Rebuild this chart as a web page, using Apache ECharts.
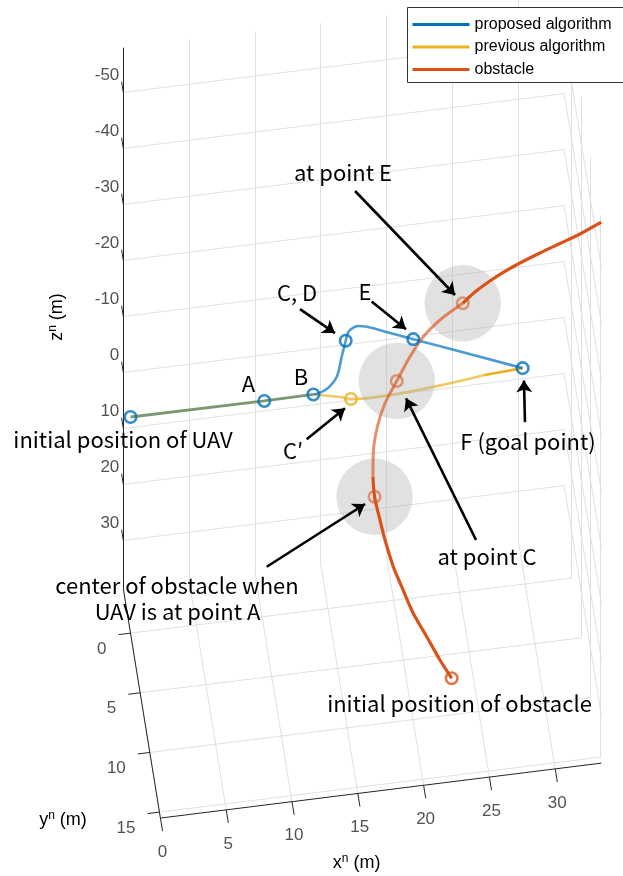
<!DOCTYPE html>
<html>
<head>
<meta charset="utf-8">
<script src="https://cdn.jsdelivr.net/npm/echarts@6/dist/echarts.min.js"></script>
<style>
  html, body { margin: 0; padding: 0; background: #fff; }
  #chart { width: 623px; height: 876px; }
</style>
</head>
<body>
<div id="chart"></div>
<script>
// ---- axis extents and ticks (m) ----
const xLim = [0, 33.5];
const yLim = [-3.73, 15.5];
const zLim = [-58, 38.6];
const xTicks = [0, 5, 10, 15, 20, 25, 30];
const yTicks = [0, 5, 10, 15];
const zTicks = [-50, -40, -30, -20, -10, 0, 10, 20, 30];

// ---- UAV trajectories [x, y, z] ----
// shared part: initial position -> A -> B
const uavCommon = [
  [0, 0, 0],
  [10.16, 0.05, 0],   // A
  [13.89, 0.02, 0]    // B
];
// proposed algorithm: B -> C, D -> E -> F
const proposedPath = [
  [13.89, 0.02, 0],
  [14.41, -0.06, 0],
  [15.06, -0.36, 0],
  [15.85, -1.2, 0],
  [16.46, -2.8, 0],
  [16.88, -3.6, -1.0],   // C, D
  [17.03, -3.68, -2.0],
  [17.22, -3.7, -2.6],
  [17.83, -3.7, -3.15],
  [18.49, -3.7, -2.83],
  [20.25, -3.6, -1.4],
  [22.0, -3.5, 0],       // E
  [29.8, 0, 0]           // F (goal)
];
// previous algorithm: B -> C' -> F
const previousPath = [
  [13.89, 0.02, 0],
  [15.85, 0.5, 0],
  [16.64, 0.78, 0],      // C'
  [26.8, 0.18, 0],
  [29.8, 0, 0]           // F (goal)
];
// obstacle centre trajectory
const obstaclePath = [
  [23.38, 7.0, 38.59],
  [22.59, 6.3, 36.59],
  [21.72, 5.4, 34.09],
  [20.81, 4.6, 31.35],
  [20.05, 3.8, 28.08],
  [19.5, 3.2, 25.63],
  [18.96, 2.6, 21.98],
  [18.65, 2.1, 19.38],
  [18.31, 1.6, 16.19],   // UAV at A
  [18.25, 1.2, 13.45],
  [18.33, 0.8, 10.15],
  [18.7, 0.4, 6.36],
  [19.32, 0.15, 2.89],
  [20.23, 0, -0.5],      // UAV at C
  [21.22, 0.1, -4.77],
  [22.2, 0.3, -8.48],
  [23.43, 0.6, -11.74],
  [25.1, 1.0, -15.08],   // UAV at E
  [25.94, 1.6, -18.13],
  [26.95, 2.5, -21.72],
  [27.94, 3.5, -25.26],
  [28.86, 5.0, -29.7],
  [30.09, 7.0, -35.39],
  [31.24, 9.5, -42.07],
  [32.35, 12.3, -49.41],
  [33.5, 15.5, -58]
];
const obstacleRadius = 2.88;          // safety sphere radius (m)
const obsAtA = 8, obsAtC = 13, obsAtE = 17;  // samples of obstaclePath
const propC = 5, propE = 11;          // samples of proposedPath
const prevC = 2;                      // sample of previousPath

// ---- colours ----
const BLUE = '#0072BD', YELLOW = '#EDB120', ORANGE = '#D95319';
const GRID = '#e0e0e0', AXIS = '#262626';

// ---- orthographic view: screen position of origin and unit steps ----
const cam = { o: [130.5, 417], ex: [13.16, -1.64], ey: [1.93, 11.93], ez: [0, 5.6] };
function proj(p) {
  return [
    cam.o[0] + p[0] * cam.ex[0] + p[1] * cam.ey[0] + p[2] * cam.ez[0],
    cam.o[1] + p[0] * cam.ex[1] + p[1] * cam.ey[1] + p[2] * cam.ez[1]
  ];
}
const unitPx = Math.hypot(cam.ex[0], cam.ex[1]);

// ---- box planes with grid lines ----
const [x0, x1] = xLim, [y0, y1] = yLim, [z0, z1] = zLim;
const gridSegs = [];
xTicks.forEach(x => gridSegs.push([[x, y0, z0], [x, y0, z1]]));       // back wall
zTicks.forEach(z => gridSegs.push([[x0, y0, z], [x1, y0, z]]));
xTicks.forEach(x => gridSegs.push([[x, y0, z1], [x, y1, z1]]));       // floor
yTicks.forEach(y => gridSegs.push([[x0, y, z1], [x1, y, z1]]));
yTicks.forEach(y => gridSegs.push([[x1, y, z0], [x1, y, z1]]));       // side wall
zTicks.forEach(z => gridSegs.push([[x1, y0, z], [x1, y1, z]]));

// axis lines and tick marks
const axisSegs = [
  [[x0, y0, z0], [x0, y0, z1]],
  [[x0, y0, z1], [x0, y1, z1]],
  [[x0, y1, z1], [x1, y1, z1]]
];
xTicks.forEach(x => axisSegs.push([[x, y1, z1], [x, y1 + 1.1, z1]]));
yTicks.forEach(y => axisSegs.push([[x0, y, z1], [x0 - 0.9, y, z1]]));
zTicks.forEach(z => axisSegs.push([[x0, y0, z], [x0, y0 - 0.9, z]]));

const segData = segs => segs.map(s => ({ coords: s.map(proj) }));
const pts = arr => arr.map(proj);

const tickFont = { fontFamily: 'Liberation Sans', fontSize: 17, color: AXIS };
function tickLabels(items, offset, align) {
  return {
    type: 'scatter', silent: true, z: 8, symbolSize: 0,
    data: items.map(it => ({ value: proj(it.p), name: it.t })),
    label: Object.assign({ show: true, formatter: '{b}', position: 'inside', offset: offset,
      align: align, verticalAlign: 'middle' }, tickFont)
  };
}

// ---- annotations ----
const annFont = '"Noto Sans CJK KR"';
const annSize = 22;
const anno = [
  { t: 'at point E', x: 343, y: 173 },
  { t: 'C, D', x: 297, y: 293 },
  { t: 'E', x: 365, y: 292 },
  { t: 'A', x: 248.5, y: 384 },
  { t: 'B', x: 301, y: 377 },
  { t: 'C\u2032', x: 293, y: 451 },
  { t: 'at point C', x: 487, y: 557 },
  { t: 'F (goal point)', x: 528, y: 442 },
  { t: 'initial position of UAV', x: 123, y: 439.5 },
  { t: 'center of obstacle when', x: 177, y: 586 },
  { t: 'UAV is at point A', x: 177.5, y: 611.5 },
  { t: 'initial position of obstacle', x: 459.5, y: 704 }
];

// arrows: pointed mark, tail / head offsets (px)
const arrowDefs = [
  { at: proj(obstaclePath[obsAtE]), tail: [-107.7, -112.3], head: [-7.7, -8.3] },
  { at: proj(proposedPath[propC]), tail: [-45.7, -31.7], head: [-10.7, -7.7] },
  { at: proj(proposedPath[propE]), tail: [-41.6, -37.6], head: [-7.3, -10] },
  { at: proj(previousPath[prevC]), tail: [-44.3, 40.3], head: [-6, 9.3] },
  { at: proj(obstaclePath[obsAtC]), tail: [79.3, 159], head: [9.3, 17.3] },
  { at: proj(proposedPath[proposedPath.length - 1]), tail: [2.3, 54], head: [1.3, 12.3] },
  { at: proj(obstaclePath[obsAtA]), tail: [-107.8, 70], head: [-9.5, 7.3] }
];
const arrowData = arrowDefs.map(a => ({
  coords: [[a.at[0] + a.tail[0], a.at[1] + a.tail[1]], [a.at[0] + a.head[0], a.at[1] + a.head[1]]]
}));

const graphics = anno.map(a => ({
  type: 'text', silent: true, z: 100,
  style: { text: a.t, x: a.x, y: a.y, textAlign: 'center', textVerticalAlign: 'middle',
    fontFamily: annFont, fontSize: annSize, fill: '#000' }
}));
const titleRich = {
  a: { fontFamily: 'Liberation Sans', fontSize: 18, lineHeight: 21, color: AXIS },
  b: { fontFamily: 'Liberation Sans', fontSize: 12, lineHeight: 13, verticalAlign: 'top', color: AXIS }
};
[
  { n: 'x', x: 356.7, y: 863.3, r: 0 },
  { n: 'y', x: 63, y: 820, r: 0 },
  { n: 'z', x: 57.5, y: 317, r: Math.PI / 2 }
].forEach(t => graphics.push({
  type: 'text', silent: true, z: 100, x: t.x, y: t.y, rotation: t.r,
  style: { text: '{a|' + t.n + '}{b|n}{a| (m)}', rich: titleRich, x: 0, y: 0,
    textAlign: 'center', textVerticalAlign: 'middle' }
}));

const chart = echarts.init(document.getElementById('chart'));
chart.setOption({
  animation: false,
  backgroundColor: '#fff',
  grid: { left: 0, top: 0, width: 623, height: 876, containLabel: false },
  xAxis: { type: 'value', min: 0, max: 623, show: false },
  yAxis: { type: 'value', min: 0, max: 876, inverse: true, show: false },
  legend: {
    orient: 'vertical', left: 407.5, top: 7.5,
    padding: [9, 20, 5, 5], itemGap: 6.5, itemWidth: 57, itemHeight: 3,
    backgroundColor: '#fff', borderColor: '#333', borderWidth: 1, borderRadius: 0,
    textStyle: { fontFamily: 'Liberation Sans', fontSize: 16, color: '#000' },
    selectedMode: false,
    data: [
      { name: 'proposed algorithm', icon: 'rect', itemStyle: { color: BLUE } },
      { name: 'previous algorithm', icon: 'rect', itemStyle: { color: YELLOW } },
      { name: 'obstacle', icon: 'rect', itemStyle: { color: ORANGE } }
    ]
  },
  graphic: graphics,
  series: [
    { type: 'lines', coordinateSystem: 'cartesian2d', silent: true, z: 1,
      lineStyle: { color: GRID, width: 1, opacity: 1 }, data: segData(gridSegs) },
    { type: 'lines', coordinateSystem: 'cartesian2d', silent: true, z: 2,
      lineStyle: { color: AXIS, width: 1, opacity: 1 }, data: segData(axisSegs) },
    tickLabels(xTicks.map(x => ({ p: [x, y1, z1], t: String(x) })), [2, 34], 'center'),
    tickLabels(yTicks.map(y => ({ p: [x0, y, z1], t: String(y) })), [-24, 16], 'right'),
    tickLabels(zTicks.map(z => ({ p: [x0, y0, z], t: String(z) })), [-4, -17.5], 'right'),

    // UAV paths
    { type: 'line', name: 'previous algorithm', silent: true, z: 3, showSymbol: false,
      smooth: 0.3, data: pts(previousPath.slice(0, 4)), itemStyle: { color: YELLOW },
      lineStyle: { color: YELLOW, width: 2.6, opacity: 0.7 } },
    { type: 'line', name: 'prev-end', silent: true, z: 3, showSymbol: false,
      data: pts(previousPath.slice(3)), lineStyle: { color: YELLOW, width: 2.6 } },
    { type: 'line', name: 'proposed algorithm', silent: true, z: 3, showSymbol: false,
      smooth: 0.4, data: pts(proposedPath), itemStyle: { color: BLUE },
      lineStyle: { color: BLUE, width: 2.6, opacity: 0.7 } },
    { type: 'line', name: 'common', silent: true, z: 3, showSymbol: false,
      data: pts(uavCommon), lineStyle: { color: '#7d9870', width: 2.8 } },

    // safety spheres around the obstacle
    { type: 'scatter', silent: true, z: 4, symbolSize: 2 * obstacleRadius * unitPx,
      itemStyle: { color: 'rgba(180,180,180,0.5)' },
      data: [obsAtA, obsAtC, obsAtE].map(i => proj(obstaclePath[i])) },

    // obstacle trajectory
    { type: 'line', name: 'obstacle', silent: true, z: 5, showSymbol: false, smooth: 0.3,
      data: pts(obstaclePath.slice(0, obsAtA + 2)), itemStyle: { color: ORANGE },
      lineStyle: { color: ORANGE, width: 3.2 } },
    { type: 'line', name: 'obs-mid', silent: true, z: 5, showSymbol: false, smooth: 0.3,
      data: pts(obstaclePath.slice(obsAtA + 1, obsAtE + 1)),
      lineStyle: { color: ORANGE, width: 3.0, opacity: 0.65 } },
    { type: 'line', name: 'obs-end', silent: true, z: 5, showSymbol: false, smooth: 0.3,
      data: pts(obstaclePath.slice(obsAtE)), lineStyle: { color: ORANGE, width: 3.2 } },

    // markers
    { type: 'scatter', silent: true, z: 6, symbolSize: 11.5,
      itemStyle: { color: 'rgba(0,0,0,0)', borderColor: BLUE, borderWidth: 2.6 },
      data: pts([uavCommon[0], uavCommon[1], uavCommon[2], proposedPath[propC],
        proposedPath[propE], proposedPath[proposedPath.length - 1]]) },
    { type: 'scatter', silent: true, z: 6, symbolSize: 11.5,
      itemStyle: { color: 'rgba(0,0,0,0)', borderColor: YELLOW, borderWidth: 2.6 },
      data: pts([previousPath[prevC]]) },
    { type: 'scatter', silent: true, z: 6, symbolSize: 11.5,
      itemStyle: { color: 'rgba(0,0,0,0)', borderColor: 'rgba(217,83,25,0.7)', borderWidth: 2.6 },
      data: [obsAtA, obsAtC, obsAtE].map(i => proj(obstaclePath[i])) },
    { type: 'scatter', silent: true, z: 6, symbolSize: 11.5,
      itemStyle: { color: 'rgba(0,0,0,0)', borderColor: ORANGE, borderWidth: 2.6 },
      data: pts([obstaclePath[0]]) },

    // annotation arrows
    { type: 'lines', coordinateSystem: 'cartesian2d', silent: true, z: 7,
      symbol: ['none', 'arrow'], symbolSize: 12,
      lineStyle: { color: '#000', width: 2.6, opacity: 1 }, data: arrowData }
  ]
});
</script>
</body>
</html>
